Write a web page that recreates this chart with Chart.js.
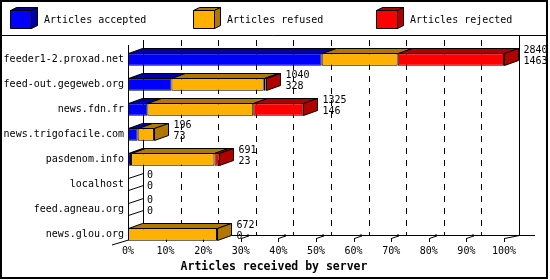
<!DOCTYPE html>
<html>
<head>
<meta charset="utf-8">
<script src="https://cdn.jsdelivr.net/npm/chart.js@4.4.1/dist/chart.umd.min.js"></script>
<style>
  html, body { margin: 0; padding: 0; background: #fff; }
  canvas { display: block; }
</style>
</head>
<body>
<canvas id="servers" width="550" height="280"></canvas>
<script>
const servers = ['feeder1-2.proxad.net', 'feed-out.gegeweb.org', 'news.fdn.fr', 'news.trigofacile.com',
                 'pasdenom.info', 'localhost', 'feed.agneau.org', 'news.glou.org'];
const accepted = [1463, 328, 146, 73, 23, 0, 0, 0];
const refused  = [574, 697, 800, 123, 630, 0, 0, 672];
const rejected = [803, 15, 379, 0, 38, 0, 0, 0];
const percentTicks = [0, 10, 20, 30, 40, 50, 60, 70, 80, 90, 100];

const seriesNames = ['Articles accepted', 'Articles refused', 'Articles rejected'];
const frontColors = ['#0000ff', '#ffb000', '#ff0000'];
const shadeColors = ['#0000a8', '#b07800', '#b00000'];

// the bars are scaled against the busiest server
const totals = servers.map((s, i) => accepted[i] + refused[i] + rejected[i]);
const biggest = Math.max(...totals);
const asPercent = arr => arr.map(v => v / biggest * 100);

const DX = 14, DY = 5;   // depth of a bar
const WX = 15, WY = 5;   // depth of the walls
const MONO = 'DejaVu Sans Mono';

function poly(c, pts, fill) {
  c.beginPath();
  c.moveTo(pts[0][0], pts[0][1]);
  for (let k = 1; k < pts.length; k++) c.lineTo(pts[k][0], pts[k][1]);
  c.closePath();
  if (fill) { c.fillStyle = fill; c.fill(); }
  c.stroke();
}
function line(c, x1, y1, x2, y2) {
  c.beginPath(); c.moveTo(x1, y1); c.lineTo(x2, y2); c.stroke();
}

const box3d = {
  id: 'box3d',
  beforeDatasetsDraw(chart) {
    const c = chart.ctx, xs = chart.scales.x;
    const x0 = Math.round(xs.getPixelForValue(0)) + 0.5;
    const floorBack = 235.5, floorFront = 240, top = 40;
    c.save();
    c.strokeStyle = '#000';
    c.lineWidth = 1;
    // dashed grid on the back wall
    c.setLineDash([6, 6]);
    percentTicks.slice(1, -1).forEach(p => {
      const x = Math.round(xs.getPixelForValue(p)) + WX + 0.5;
      line(c, x, top, x, floorBack);
    });
    c.setLineDash([]);
    const xb = x0 + WX, xr = Math.round(xs.getPixelForValue(100)) + WX + 0.5;
    line(c, xb, top, xb, floorBack);
    line(c, xr, 36, xr, floorBack);
    line(c, xb, floorBack, 535, floorBack);
    // front axis
    line(c, x0, 45, x0, floorFront);
    line(c, 112, 245, x0, floorFront);
    // value ticks
    percentTicks.forEach(p => {
      const x = Math.round(xs.getPixelForValue(p)) + 0.5;
      if (p > 0) line(c, x, 238, x, 242);
      if (p === 100) line(c, x, 238.5, x + WX, floorBack);
      else if (p > 0) {
        line(c, x, 238.5, x + 7, 236);
        c.fillStyle = '#000';
        c.fillRect(x + 5.5, 234.5, 2, 2);
      }
    });
    c.restore();
  },
  afterDatasetsDraw(chart) {
    const c = chart.ctx, xs = chart.scales.x;
    const x0 = xs.getPixelForValue(0);
    c.save();
    c.strokeStyle = '#000';
    c.lineWidth = 1;
    servers.forEach((name, i) => {
      let last = -1, yc = 0, h = 0, xEnd = x0;
      chart.data.datasets.forEach((ds, d) => {
        const el = chart.getDatasetMeta(d).data[i];
        const p = el.getProps(['x', 'y', 'base', 'height'], true);
        yc = p.y; h = p.height;
        const t = Math.round(p.y - p.height / 2) + 0.5;
        const a = Math.round(p.base) + 0.5, b = Math.round(p.x) + 0.5;
        if (ds.data[i] > 0) {
          poly(c, [[a, t], [b, t], [b + DX, t - DY], [a + DX, t - DY]], shadeColors[d]);
          last = d; xEnd = b;
        }
      });
      const t = Math.round(yc - h / 2) + 0.5, bt = Math.round(yc + h / 2) - 0.5;
      if (last >= 0) {
        poly(c, [[xEnd, t], [xEnd, bt], [xEnd + DX, bt - DY], [xEnd + DX, t - DY]], shadeColors[last]);
      } else {
        const a = Math.round(x0) + 0.5;
        line(c, a, t, a + WX, t - WY);
        line(c, a, bt, a + WX, bt - WY);
      }
      // total received and accepted next to the bar
      c.fillStyle = '#000';
      c.font = '10px ' + MONO;
      c.textAlign = 'left';
      c.textBaseline = 'middle';
      const tx = (last >= 0 ? xEnd : x0) + DX + 5;
      c.fillText(String(totals[i]), tx, yc - 9);
      c.fillText(String(accepted[i]), tx, yc + 1.5);
    });
    c.restore();
  },
  afterDraw(chart) {
    const c = chart.ctx, xs = chart.scales.x;
    c.save();
    c.strokeStyle = '#000';
    c.fillStyle = '#000';
    // percent labels under the floor
    c.font = '10px ' + MONO;
    c.textAlign = 'center';
    c.textBaseline = 'middle';
    percentTicks.forEach(p => c.fillText(p + '%', xs.getPixelForValue(p), 251));
    c.font = 'bold 11.5px ' + MONO;
    c.fillText('Articles received by server', 274, 267);
    // legend with small boxes
    c.lineWidth = 1;
    const boxX = [10, 193, 376];
    seriesNames.forEach((label, d) => {
      const x = boxX[d] + 0.5, y = 10.5, w = 21, hh = 18;
      poly(c, [[x, y], [x + w, y], [x + w + 6, y - 3], [x + 6, y - 3]], shadeColors[d]);
      poly(c, [[x + w, y], [x + w, y + hh], [x + w + 6, y + hh - 3], [x + w + 6, y - 3]], shadeColors[d]);
      poly(c, [[x, y], [x + w, y], [x + w, y + hh], [x, y + hh]], frontColors[d]);
      c.fillStyle = '#000';
      c.font = '10px ' + MONO;
      c.textAlign = 'left';
      c.fillText(label, boxX[d] + 34, 20);
    });
    line(c, 0, 35.5, 547, 35.5);
    c.lineWidth = 2;
    c.strokeRect(1, 1, 546, 277);
    c.restore();
  }
};

Chart.defaults.font.family = MONO;
Chart.defaults.color = '#000';

const ctx = document.getElementById('servers').getContext('2d');
const chart = new Chart(ctx, {
  type: 'bar',
  data: {
    labels: servers,
    datasets: [accepted, refused, rejected].map((vals, d) => ({
      label: seriesNames[d],
      data: asPercent(vals),
      backgroundColor: frontColors[d],
      borderColor: '#000',
      borderWidth: 1,
      borderSkipped: false,
      categoryPercentage: 1,
      barPercentage: 0.5
    }))
  },
  options: {
    indexAxis: 'y',
    responsive: false,
    animation: false,
    layout: { padding: { left: 4, right: 46, top: 47, bottom: 33 } },
    plugins: { legend: { display: false }, tooltip: { enabled: false } },
    scales: {
      x: { display: false, stacked: true, min: 0, max: 100 },
      y: {
        stacked: true,
        grid: { display: false, drawTicks: false },
        border: { display: false },
        ticks: { font: { size: 10, family: MONO }, color: '#000', padding: 4 },
        afterFit(scale) { scale.width = 124; }
      }
    }
  },
  plugins: [box3d]
});
</script>
</body>
</html>
